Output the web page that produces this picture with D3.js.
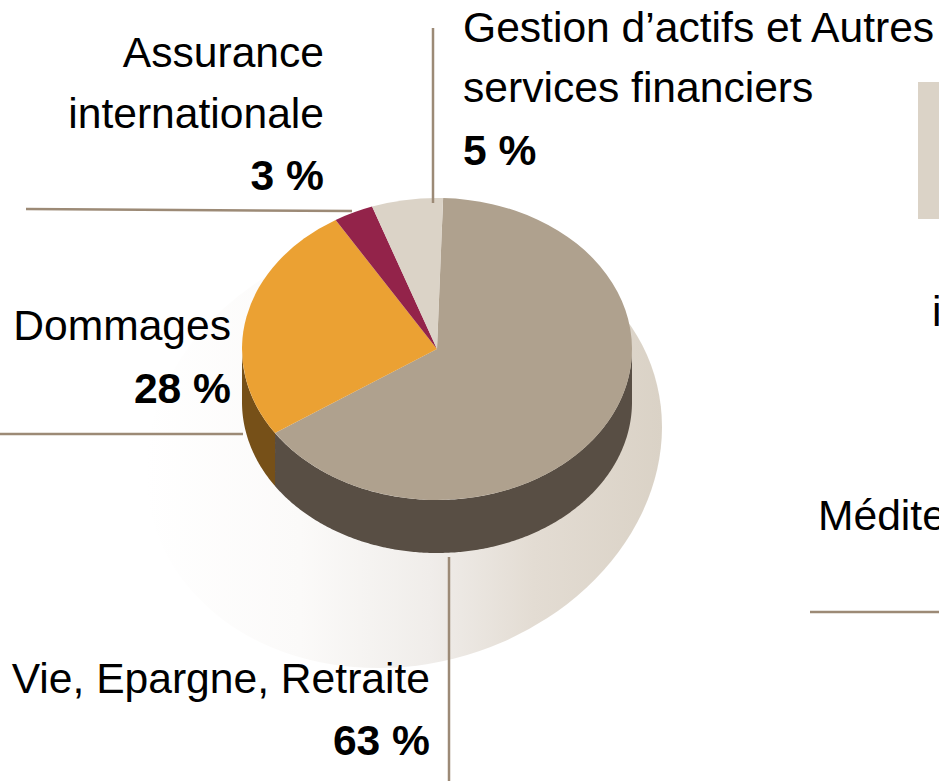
<!DOCTYPE html>
<html>
<head>
<meta charset="utf-8">
<script src="https://cdn.jsdelivr.net/npm/d3@7"></script>
<style>
html, body { margin: 0; padding: 0; background: #fff; overflow: hidden; }
text { font-family: "Liberation Sans", Arial, sans-serif; font-size: 42.6px; fill: #000; }
</style>
</head>
<body>
<div id="chart"></div>
<script>
// shares as drawn in the picture (the slices are not quite the printed percentages)
var categories = ["Vie, Epargne, Retraite", "Dommages", "Assurance internationale", "Gestion d'actifs et Autres services financiers"];
var drawnShares = [65.1, 25.7, 3.3, 5.9];
var topColors = ["#afa18e", "#eba133", "#93234a", "#dbd3c7"];
var sideColors = ["#584e44", "#765018", "#5a162d", "#8a8479"];

var width = 939, height = 781;
var cx = 437, cy = 349, rx = 195, ry = 151, depth = 53;
var lineColor = "#9c8a76";

var svg = d3.select("#chart").append("svg")
    .attr("width", width)
    .attr("height", height)
    .style("display", "block");

var defs = svg.append("defs");
// shear keeps x, so the gradient stays left to right on the page
var grad = defs.append("linearGradient")
    .attr("id", "shadowGrad")
    .attr("gradientUnits", "userSpaceOnUse")
    .attr("x1", -258).attr("y1", 0)
    .attr("x2", 258).attr("y2", 0);
grad.append("stop").attr("offset", "0").attr("stop-color", "#fff");
grad.append("stop").attr("offset", "0.3").attr("stop-color", "#fbfaf9");
grad.append("stop").attr("offset", "0.55").attr("stop-color", "#f0edea");
grad.append("stop").attr("offset", "0.75").attr("stop-color", "#e3dcd3");
grad.append("stop").attr("offset", "1").attr("stop-color", "#dad2c6");

// soft shadow behind the pie
svg.append("ellipse")
    .attr("transform", "matrix(1,-0.085,0,1,404,449)")
    .attr("rx", 258)
    .attr("ry", 218)
    .attr("fill", "url(#shadowGrad)");

var pie = d3.pie()
    .sort(null)
    .startAngle(1.8 * Math.PI / 180)
    .endAngle((360 + 1.8) * Math.PI / 180);
var arcs = pie(drawnShares);

// side wall, only the front half (90deg to 270deg from the top) is seen
var wall = d3.area()
    .x(function(a) { return cx + rx * Math.sin(a); })
    .y0(function(a) { return cy - ry * Math.cos(a); })
    .y1(function(a) { return cy - ry * Math.cos(a) + depth; });

arcs.forEach(function(d, i) {
    var a0 = Math.max(d.startAngle, Math.PI / 2),
        a1 = Math.min(d.endAngle, 3 * Math.PI / 2);
    if (a1 <= a0) return;
    svg.append("path")
        .attr("d", wall(d3.range(a0, a1, 0.01).concat([a1])))
        .attr("fill", sideColors[i]);
});

// top face: a flat arc squashed into an ellipse
var arc = d3.arc().innerRadius(0).outerRadius(rx);
svg.append("g")
    .attr("transform", "translate(" + cx + "," + cy + ") scale(1," + (ry / rx) + ")")
    .selectAll("path")
    .data(arcs)
    .enter().append("path")
    .attr("d", arc)
    .attr("fill", function(d, i) { return topColors[i]; });

// legend swatch cut by the right edge
svg.append("rect")
    .attr("x", 918).attr("y", 82)
    .attr("width", 30).attr("height", 137)
    .attr("fill", "#dbd3c7");

var leaders = [
    [26, 209, 352, 211],
    [433, 28, 433, 203],
    [0, 434, 243, 434],
    [449, 557, 449, 781],
    [810, 612, 939, 612]
];
svg.selectAll(".leader")
    .data(leaders)
    .enter().append("line")
    .attr("class", "leader")
    .attr("x1", function(d) { return d[0]; })
    .attr("y1", function(d) { return d[1]; })
    .attr("x2", function(d) { return d[2]; })
    .attr("y2", function(d) { return d[3]; })
    .style("stroke", lineColor)
    .style("stroke-width", "2.5px");

var labels = [
    {t: "Gestion d\u2019actifs et Autres", x: 463, y: 42, a: "start"},
    {t: "services financiers", x: 463, y: 102, a: "start"},
    {t: "5 %", x: 463, y: 165, a: "start", b: 1},
    {t: "Assurance", x: 324, y: 67, a: "end"},
    {t: "internationale", x: 324, y: 128, a: "end"},
    {t: "3 %", x: 324, y: 190, a: "end", b: 1},
    {t: "Dommages", x: 231, y: 340, a: "end"},
    {t: "28 %", x: 231, y: 403, a: "end", b: 1},
    {t: "Vie, Epargne, Retraite", x: 430, y: 693, a: "end"},
    {t: "63 %", x: 430, y: 755, a: "end", b: 1},
    {t: "i", x: 932, y: 326, a: "start"},
    {t: "M\u00e9dite", x: 818, y: 530, a: "start"}
];
svg.selectAll(".label")
    .data(labels)
    .enter().append("text")
    .attr("class", "label")
    .attr("x", function(d) { return d.x; })
    .attr("y", function(d) { return d.y; })
    .attr("text-anchor", function(d) { return d.a; })
    .style("font-weight", function(d) { return d.b ? "bold" : "normal"; })
    .text(function(d) { return d.t; });
</script>
</body>
</html>
